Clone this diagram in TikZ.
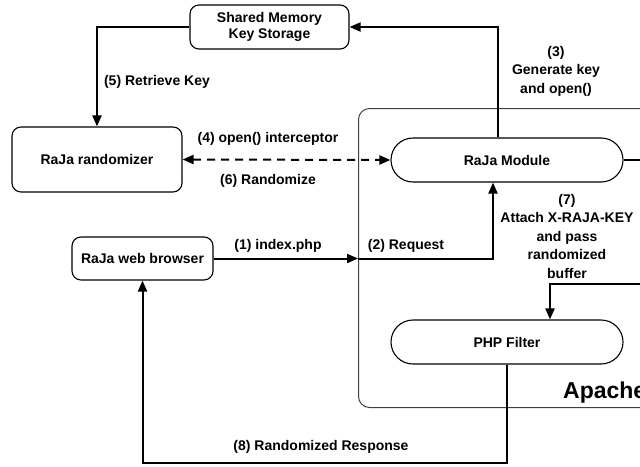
\documentclass[tikz,border=0pt]{standalone}
\usepackage{fontspec}
\setmainfont{Liberation Sans}
\usetikzlibrary{arrows.meta,shapes.misc}

\begin{document}
\begin{tikzpicture}[x=1pt,y=-1pt,
  lbl/.style={font=\bfseries\fontsize{14}{18.5}\selectfont, align=center, inner sep=0pt},
  roundbox/.style={draw, line width=1.1pt, rounded corners=9pt, inner sep=0pt,
    font=\bfseries\fontsize{14}{16}\selectfont, align=center},
  pill/.style={draw, line width=1.1pt, rounded rectangle, inner sep=0pt,
    minimum width=232pt, minimum height=44pt,
    font=\bfseries\fontsize{14}{16}\selectfont},
  flow/.style={line width=2pt, -{Triangle[length=11pt,width=9pt]}},
  twoway/.style={line width=2pt, dash pattern=on 8pt off 6pt,
    {Triangle[length=11pt,width=9pt]}-{Triangle[length=11pt,width=9pt]}}
]
\useasboundingbox (0,0) rectangle (640,466);
\clip (0,0) rectangle (640,466);

% Apache container (runs past the right edge)
\node (apache) [draw, line width=1pt, draw=black!75, rounded corners=11pt,
  minimum width=342pt, minimum height=299pt, anchor=north west, inner sep=0pt]
  at (358,108) {};
\node[anchor=base west, inner sep=0pt, font=\bfseries\fontsize{23}{27}\selectfont]
  (apachelbl) at (563,398) {Apache};

% Components
\node (shm) [roundbox, minimum width=159pt, minimum height=44pt] at (269.5,27)
  {Shared Memory\\Key Storage};
\node (rand) [roundbox, minimum width=170pt, minimum height=65pt] at (97,159.5)
  {RaJa randomizer};
\node (browser) [roundbox, minimum width=141pt, minimum height=43pt] at (142.5,258.5)
  {RaJa web browser};
\node (module) [pill] at (507,160) {RaJa Module};
\node (filter) [pill] at (507,342) {PHP Filter};

% Helper points for the bends
\coordinate (gen) at (498,0);
\coordinate (req) at (493,0);
\coordinate (outer) at (670,284);
\coordinate (attach) at (550,0);
\coordinate (resp) at (300,463);

% Flows
\draw[flow] (module.north -| gen) |- (shm.east);
\draw[flow] (shm.west) -| (rand.north);
\draw[twoway] (rand.east) -- (module.west);
\draw[flow] (browser.east) -- (browser.east -| apache.west);
\draw[flow] (browser.east -| apache.west) -| (module.south -| req);
\draw[flow] (module.east) -| (outer) -| (filter.north -| attach);
\draw[flow] (filter.south) |- (resp) -| (browser.south);

% Labels
\node[lbl] (l3) at (556,71) {(3)\\Generate key\\and open()};
\node[lbl] (l5) at (157,82) {(5) Retrieve Key};
\node[lbl] (l4) at (268,139) {(4) open() interceptor};
\node[lbl] (l6) at (268,181) {(6) Randomize};
\node[lbl] (l1) at (278,246) {(1) index.php};
\node[lbl] (l2) at (406,246) {(2) Request};
\node[lbl] (l7) at (567,236) {(7)\\Attach X-RAJA-KEY\\and pass\\randomized\\buffer};
\node[lbl] (l8) at (321,447) {(8) Randomized Response};
\end{tikzpicture}
\end{document}
